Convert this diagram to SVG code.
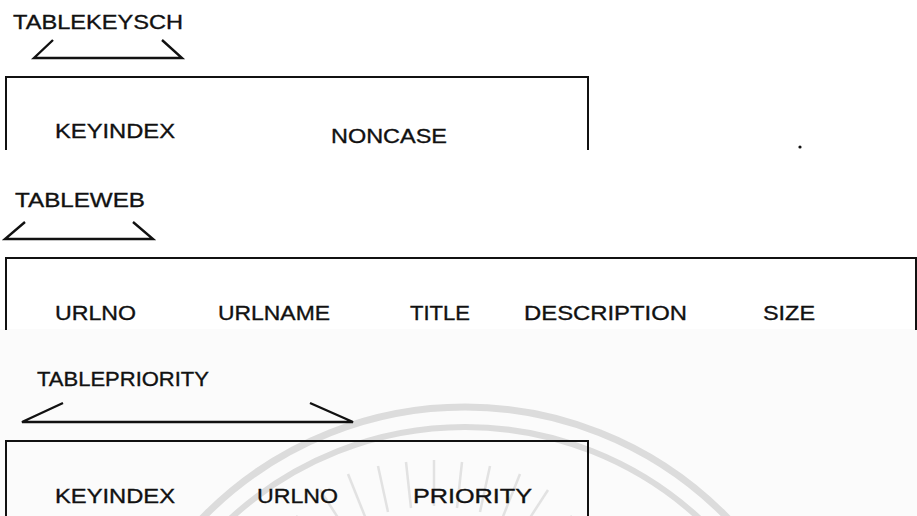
<svg xmlns="http://www.w3.org/2000/svg" width="917" height="516" viewBox="0 0 917 516">
  <style>
    .lbl { font-family: "Liberation Sans", Arial, sans-serif; font-size: 21px; fill: #111; stroke: #111; stroke-width: 0.35; }
    .frame { fill: none; stroke: #111; stroke-width: 2; }
    .brace { fill: none; stroke: #111; stroke-width: 2.4; stroke-linejoin: miter; }
    .wm { fill: none; stroke: #dcdcdc; }
    .ray { stroke: #e2e2e2; stroke-width: 2.5; }
  </style>

  <!-- paper -->
  <rect x="0" y="0" width="917" height="516" fill="#ffffff"/>
  <rect x="0" y="329" width="917" height="187" fill="#fbfbfb"/>

  <!-- faint seal in the background -->
  <g id="seal" class="wm">
    <circle cx="465" cy="773" r="366" stroke-width="7"/>
    <circle cx="465" cy="773" r="346" stroke-width="6"/>
    <g class="ray">
      <line x1="330" y1="545" x2="296" y2="516"/>
      <line x1="346" y1="530" x2="320" y2="490"/>
      <line x1="366" y1="519" x2="348" y2="474"/>
      <line x1="388" y1="512" x2="378" y2="466"/>
      <line x1="411" y1="508" x2="406" y2="462"/>
      <line x1="434" y1="506" x2="434" y2="460"/>
      <line x1="457" y1="508" x2="462" y2="462"/>
      <line x1="480" y1="512" x2="490" y2="466"/>
      <line x1="502" y1="519" x2="520" y2="474"/>
      <line x1="522" y1="530" x2="548" y2="490"/>
      <line x1="538" y1="545" x2="572" y2="516"/>
    </g>
  </g>

  <!-- TABLEKEYSCH -->
  <g id="tablekeysch">
    <text class="lbl" x="13" y="29" textLength="170" lengthAdjust="spacingAndGlyphs">TABLEKEYSCH</text>
    <polyline class="brace" points="53,40 34,58 182,58 162,40"/>
    <path class="frame" d="M6,150 V77 H588 V150"/>
    <text class="lbl" x="55" y="138" textLength="120" lengthAdjust="spacingAndGlyphs">KEYINDEX</text>
    <text class="lbl" x="331" y="143" textLength="116" lengthAdjust="spacingAndGlyphs">NONCASE</text>
  </g>

  <!-- stray mark -->
  <circle cx="800" cy="147" r="1.6" fill="#111"/>

  <!-- TABLEWEB -->
  <g id="tableweb">
    <text class="lbl" x="15" y="207" textLength="130" lengthAdjust="spacingAndGlyphs">TABLEWEB</text>
    <polyline class="brace" points="25,222 5,239 153,239 133,222"/>
    <path class="frame" d="M6,330 V258 H917 M916,258 V330"/>
    <text class="lbl" x="55" y="320" textLength="81" lengthAdjust="spacingAndGlyphs">URLNO</text>
    <text class="lbl" x="218" y="320" textLength="112" lengthAdjust="spacingAndGlyphs">URLNAME</text>
    <text class="lbl" x="410" y="320" textLength="60" lengthAdjust="spacingAndGlyphs">TITLE</text>
    <text class="lbl" x="524" y="320" textLength="163" lengthAdjust="spacingAndGlyphs">DESCRIPTION</text>
    <text class="lbl" x="763" y="320" textLength="52" lengthAdjust="spacingAndGlyphs">SIZE</text>
  </g>

  <!-- TABLEPRIORITY -->
  <g id="tablepriority">
    <text class="lbl" x="37" y="386" textLength="172" lengthAdjust="spacingAndGlyphs">TABLEPRIORITY</text>
    <polyline class="brace" points="63,403 22,422 353,422 310,403"/>
    <path class="frame" d="M6,516 V441 H588 V516"/>
    <text class="lbl" x="55" y="503" textLength="120" lengthAdjust="spacingAndGlyphs">KEYINDEX</text>
    <text class="lbl" x="257" y="503" textLength="81" lengthAdjust="spacingAndGlyphs">URLNO</text>
    <text class="lbl" x="413" y="503" textLength="119" lengthAdjust="spacingAndGlyphs">PRIORITY</text>
  </g>
</svg>
